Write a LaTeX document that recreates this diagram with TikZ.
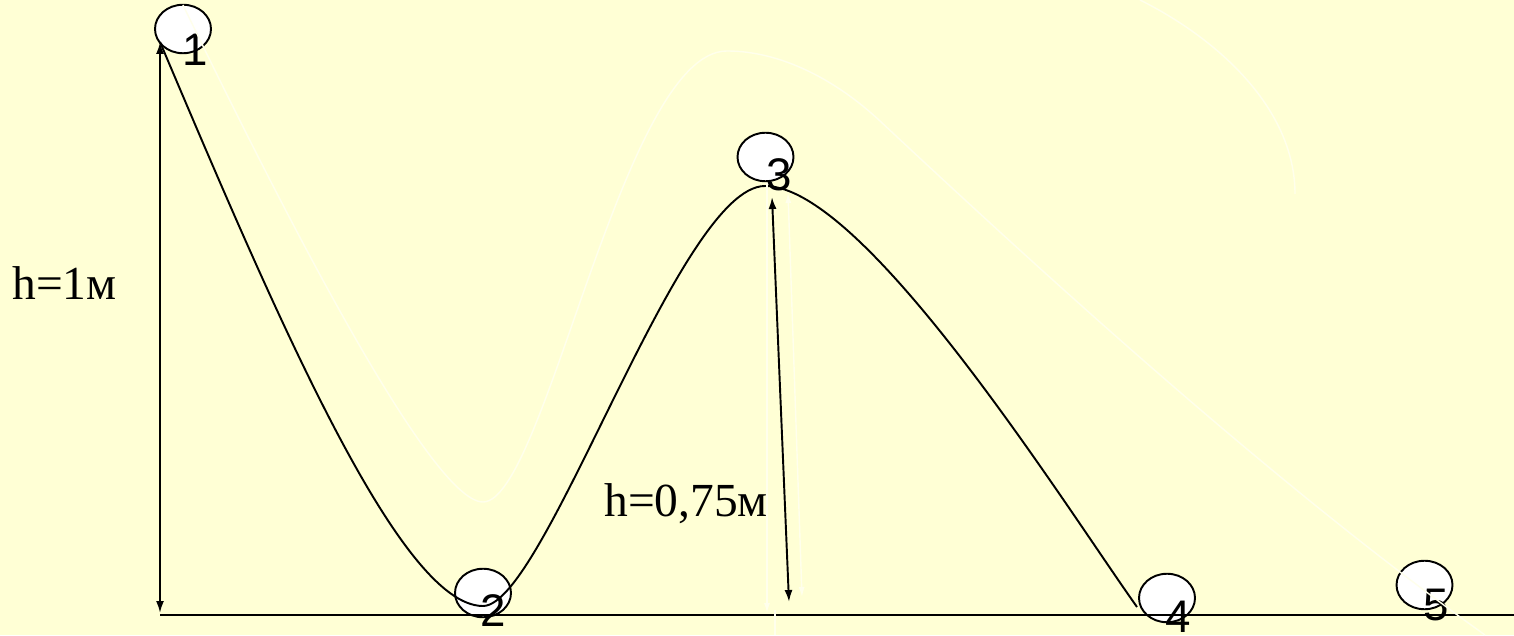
\documentclass[tikz,border=0pt]{standalone}
\usepackage{fontspec}
\setmainfont{Liberation Serif}
\newfontfamily\digitfont{Liberation Sans}
\usepackage{xcolor}
\definecolor{mybg}{HTML}{FFFFD5}
\colorlet{myghost}{white!55!mybg}
\usetikzlibrary{arrows.meta}
\usetikzlibrary{shapes.geometric}
\tikzset{
  ball/.style={ellipse, draw, fill=white, line width=1.1pt, inner sep=0pt,
    minimum width=1.12cm, minimum height=0.97cm},
  num/.style={inner sep=0pt, font=\digitfont\fontsize{26}{30}\selectfont},
  hlabel/.style={inner sep=0pt, anchor=base west, font=\fontsize{27}{31}\selectfont},
  harrow/.style={{Latex[length=2.4mm,width=1.6mm]}-{Latex[length=2.4mm,width=1.6mm]}, line width=1.1pt},
  ghost/.style={myghost, line width=0.8pt}
}

\begin{document}
\begin{tikzpicture}
      \useasboundingbox (0cm,0cm) rectangle (30.28cm,12.7cm);
      \fill[mybg] (0cm,0cm) rectangle (30.28cm,12.7cm);

      \node[ball] (b1) at (3.66cm,12.12cm) {};
      \node[ball] (b2) at (9.66cm,0.84cm) {};
      \node[ball] (b3) at (15.31cm,9.56cm) {};
      \node[ball] (b4) at (23.34cm,0.74cm) {};
      \node[ball] (b5) at (28.49cm,1.0cm) {};

      \coordinate (O) at (3.2cm,0.4cm);
      \coordinate (E) at (30.28cm,0.4cm);
      \draw[line width=1.1pt] (O) -- (E);
      \draw[line width=1.5pt] (22.8cm,0.4cm) -- (27.26cm,0.4cm);

      \coordinate (top1) at (3.2cm,11.86cm);
      \coordinate (low2) at (9.66cm,0.58cm);
      \coordinate (top3) at (15.3cm,8.98cm);
      \coordinate (end4) at (22.74cm,0.56cm);
      \draw[line width=1.1pt] (top1) .. controls (5.54cm,6.34cm) and (8.0cm,0.58cm) .. (low2)
        .. controls (10.9cm,0.58cm) and (13.58cm,8.98cm) .. (top3)
        .. controls (17.3cm,8.98cm) and (21.29cm,2.6cm) .. (end4);

      \coordinate (Abot) at (3.2cm,0.44cm);
      \draw[harrow] (Abot) -- (top1);
      \coordinate (Btop) at (15.44cm,8.76cm);
      \coordinate (Bbot) at (15.78cm,0.66cm);
      \draw[harrow] (Bbot) -- (Btop);

      \node[hlabel] (h1) at (0.24cm,6.7cm) {h=1м};
      \node[hlabel] (h2) at (12.08cm,2.36cm) {h=0,75м};

      \node[num] (n1) at (3.9cm,11.7cm) {1};
      \node[num] (n2) at (9.86cm,0.48cm) {2};
      \node[num] (n3) at (15.58cm,9.2cm) {3};
      \node[num] (n4) at (23.56cm,0.36cm) {4};
      \node[num] (n5) at (28.72cm,0.6cm) {5};

      \draw[ghost] (3.66cm,12.6cm) .. controls (5.5cm,8.8cm) and (8.6cm,2.66cm) .. (9.66cm,2.66cm)
        .. controls (10.9cm,2.66cm) and (12.45cm,11.68cm) .. (14.54cm,11.68cm)
        .. controls (15.6cm,11.68cm) and (16.7cm,11.12cm) .. (17.6cm,10.28cm)
        .. controls (21.0cm,7.1cm) and (25.5cm,3.0cm) .. (29.7cm,0cm);
      \draw[ghost] (22.8cm,12.7cm) .. controls (24.4cm,11.9cm) and (25.9cm,10.5cm) .. (25.9cm,8.82cm);
      \draw[ghost, -{Latex[length=2mm,width=1.2mm]}] (15.34cm,9.04cm) -- (15.34cm,0.44cm);
      \draw[ghost] (15.5cm,0.5cm) -- (15.5cm,0cm);
      \draw[ghost, {Latex[length=2mm,width=1.2mm]}-{Latex[length=2mm,width=1.2mm]}] (15.76cm,8.84cm) -- (16.04cm,0.76cm);
    \end{tikzpicture}
\end{document}
